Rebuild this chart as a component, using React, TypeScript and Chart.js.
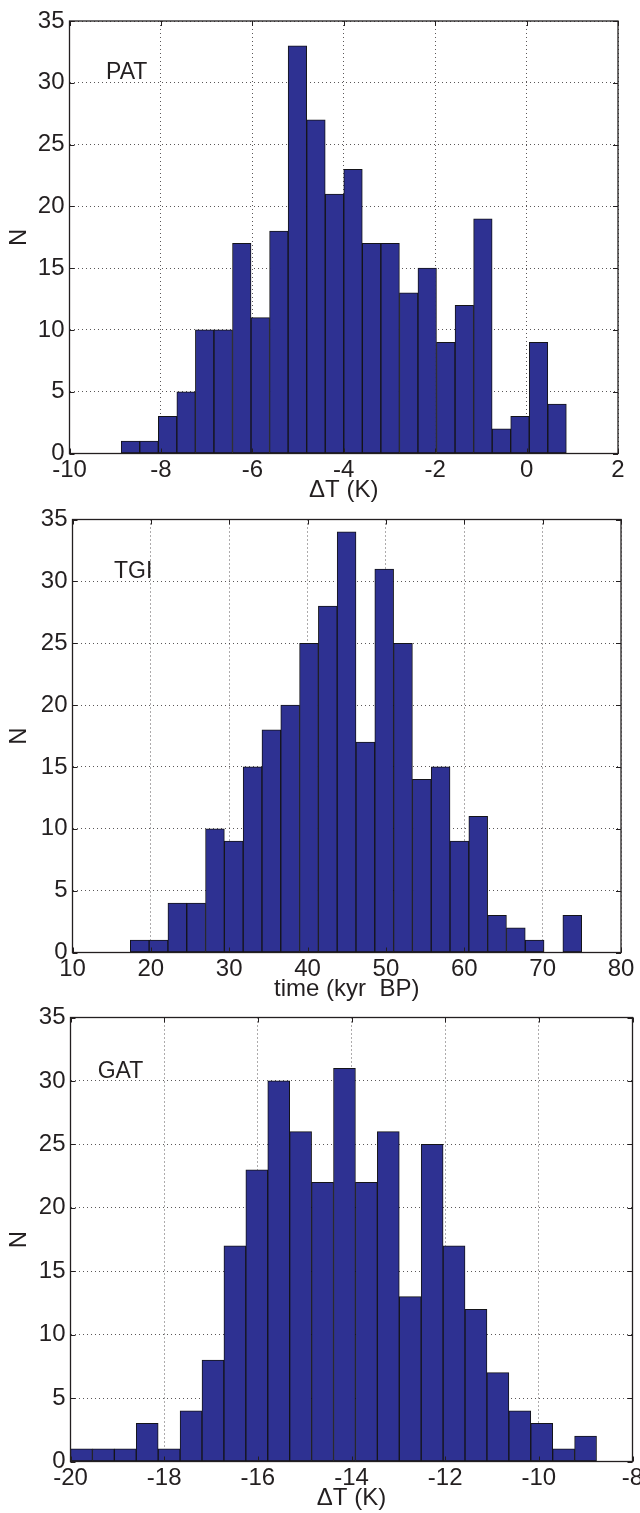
import React, { useEffect, useRef } from "react";
import { Chart, registerables } from "chart.js";

Chart.register(...registerables);

// ---------- data ----------
// PAT panel: bin centres (ΔT, K) and counts
const patBinCenters = [
  -8.666, -8.26, -7.854, -7.449, -7.043, -6.637, -6.231, -5.826, -5.42, -5.014, -4.608, -4.202,
  -3.797, -3.391, -2.985, -2.579, -2.174, -1.768, -1.362, -0.956, -0.55, -0.145, 0.261, 0.667,
];
const patCounts = [1, 1, 3, 5, 10, 10, 17, 11, 18, 33, 27, 21, 23, 17, 17, 13, 15, 9, 12, 19, 2, 3, 9, 4];
const patXTicks = [-10, -8, -6, -4, -2, 0, 2];

// TGI panel: bin centres (time, kyr BP) and counts
const tgiBinCenters = [
  18.58, 20.98, 23.38, 25.78, 28.18, 30.58, 32.98, 35.38, 37.78, 40.18, 42.58, 44.98,
  47.38, 49.78, 52.18, 54.58, 56.98, 59.38, 61.78, 64.18, 66.58, 68.98, 71.38, 73.78,
];
const tgiCounts = [1, 1, 4, 4, 10, 9, 15, 18, 20, 25, 28, 34, 17, 31, 25, 14, 15, 9, 11, 3, 2, 1, 0, 3];
const tgiXTicks = [10, 20, 30, 40, 50, 60, 70, 80];

// GAT panel: bin centres (ΔT, K) and counts
const gatBinCenters = [
  -19.766, -19.298, -18.83, -18.362, -17.894, -17.426, -16.958, -16.49, -16.022, -15.554, -15.086, -14.618,
  -14.15, -13.682, -13.214, -12.746, -12.278, -11.81, -11.342, -10.874, -10.406, -9.938, -9.47, -9.002,
];
const gatCounts = [1, 1, 1, 3, 1, 4, 8, 17, 23, 30, 26, 22, 31, 22, 26, 13, 25, 17, 12, 7, 4, 3, 1, 2];
const gatXTicks = [-20, -18, -16, -14, -12, -10, -8];

const countTicks = [0, 5, 10, 15, 20, 25, 30, 35];
const yTitle = "N";

// ---------- styling ----------
const FONT = "'Liberation Sans', Arial, Helvetica, sans-serif";
const INK = "#231F20";
const BAR = "#2E3192";
const CANVAS_W = 700;

const decorPlugin = {
  id: "decor",
  afterDatasetsDraw(chart: any, _args: any, opts: any) {
    const { ctx, chartArea: a, scales } = chart;
    const xs = scales.x;
    const ys = scales.y;
    ctx.save();
    ctx.strokeStyle = INK;
    ctx.lineWidth = 1;
    const tl = 5;
    ctx.beginPath();
    (opts.xTicks as number[]).forEach((v) => {
      const px = Math.round(xs.getPixelForValue(v)) + 0.5;
      ctx.moveTo(px, a.bottom);
      ctx.lineTo(px, a.bottom - tl);
      ctx.moveTo(px, a.top);
      ctx.lineTo(px, a.top + tl);
    });
    (opts.yTicks as number[]).forEach((v) => {
      const py = Math.round(ys.getPixelForValue(v)) + 0.5;
      ctx.moveTo(a.left, py);
      ctx.lineTo(a.left + tl, py);
      ctx.moveTo(a.right, py);
      ctx.lineTo(a.right - tl, py);
    });
    ctx.stroke();
    ctx.lineWidth = 1.3;
    ctx.strokeRect(a.left, a.top, a.right - a.left, a.bottom - a.top);
    ctx.fillStyle = INK;
    ctx.font = `23px ${FONT}`;
    ctx.textAlign = "left";
    ctx.textBaseline = "alphabetic";
    ctx.fillText(opts.name, xs.getPixelForValue(opts.at[0]), ys.getPixelForValue(opts.at[1]));
    ctx.restore();
  },
};

type Box = { left: number; right: number; top: number; bottom: number };
type PanelProps = {
  centers: number[];
  counts: number[];
  xTicks: number[];
  name: string;
  xTitle: string;
  box: Box;
  labelAt: [number, number];
};

function HistPanel(p: PanelProps) {
  const ref = useRef<HTMLCanvasElement | null>(null);
  const canvasTop = Math.floor(p.box.top) - 40;
  const padTop = p.box.top - canvasTop;
  const H = Math.ceil(p.box.bottom - canvasTop) + 72;
  const xAxisH = H - (p.box.bottom - canvasTop);
  const titleMid = 37; // px below axis
  const titlePadBottom = xAxisH - titleMid - (24 * 1.2) / 2;

  useEffect(() => {
    if (!ref.current) return;
    const xMin = p.xTicks[0];
    const xMax = p.xTicks[p.xTicks.length - 1];
    const chart = new Chart(ref.current, {
      type: "bar",
      data: {
        datasets: [
          {
            data: p.centers.map((c, i) => ({ x: c, y: p.counts[i] })),
            backgroundColor: BAR,
            borderColor: "#141419",
            borderWidth: 1,
            borderSkipped: false,
            barPercentage: 1,
            categoryPercentage: 1,
          } as any,
        ],
      },
      options: {
        animation: false,
        responsive: false,
        devicePixelRatio: 1,
        layout: {
          padding: { left: 0, right: CANVAS_W - p.box.right, top: padTop, bottom: 0 },
        },
        plugins: {
          legend: { display: false },
          tooltip: { enabled: false },
          decor: { xTicks: p.xTicks, yTicks: countTicks, name: p.name, at: p.labelAt },
        } as any,
        scales: {
          x: {
            type: "linear",
            min: xMin,
            max: xMax,
            offset: false,
            afterBuildTicks: (s: any) => {
              s.ticks = p.xTicks.map((v) => ({ value: v }));
            },
            afterFit: (s: any) => {
              s.height = xAxisH;
            },
            grid: { color: "rgba(35,31,32,0.75)", lineWidth: 1, drawTicks: false, offset: false },
            border: { display: false, dash: [1, 3] },
            ticks: {
              color: INK,
              font: { family: FONT, size: 24 },
              padding: 2,
              maxRotation: 0,
              autoSkip: false,
              callback: (v: any) => String(v),
            },
            title: {
              display: true,
              text: p.xTitle,
              color: INK,
              font: { family: FONT, size: 24 },
              padding: { top: 0, bottom: titlePadBottom },
            },
          },
          y: {
            type: "linear",
            min: 0,
            max: 35,
            afterBuildTicks: (s: any) => {
              s.ticks = countTicks.map((v) => ({ value: v }));
            },
            afterFit: (s: any) => {
              s.width = p.box.left;
            },
            grid: { color: "rgba(35,31,32,0.75)", lineWidth: 1, drawTicks: false },
            border: { display: false, dash: [1, 3] },
            ticks: {
              color: INK,
              font: { family: FONT, size: 24 },
              padding: 5,
              autoSkip: false,
              callback: (v: any) => String(v),
            },
            title: {
              display: true,
              text: yTitle,
              color: INK,
              font: { family: FONT, size: 24 },
              padding: { top: 5, bottom: 0 },
            },
          },
        },
      } as any,
      plugins: [decorPlugin as any],
    });
    return () => chart.destroy();
  }, []);

  return (
    <canvas
      ref={ref}
      width={CANVAS_W}
      height={H}
      style={{ position: "absolute", left: 0, top: canvasTop, width: CANVAS_W, height: H }}
    />
  );
}

export default function App() {
  return (
    <div
      style={{
        position: "absolute",
        left: 0,
        top: 0,
        width: 640,
        height: 1513,
        overflow: "hidden",
        background: "#ffffff",
      }}
    >
      <HistPanel
        centers={patBinCenters}
        counts={patCounts}
        xTicks={patXTicks}
        name="PAT"
        xTitle="ΔT (K)"
        box={{ left: 69.5, right: 618, top: 21, bottom: 453.5 }}
        labelAt={[-9.2, 30.28]}
      />
      <HistPanel
        centers={tgiBinCenters}
        counts={tgiCounts}
        xTicks={tgiXTicks}
        name="TGI"
        xTitle="time (kyr  BP)"
        box={{ left: 72.5, right: 621, top: 519.5, bottom: 952.5 }}
        labelAt={[15.3, 30.3]}
      />
      <HistPanel
        centers={gatBinCenters}
        counts={gatCounts}
        xTicks={gatXTicks}
        name="GAT"
        xTitle="ΔT (K)"
        box={{ left: 70.5, right: 632.5, top: 1017.5, bottom: 1461.5 }}
        labelAt={[-19.42, 30.2]}
      />
    </div>
  );
}
